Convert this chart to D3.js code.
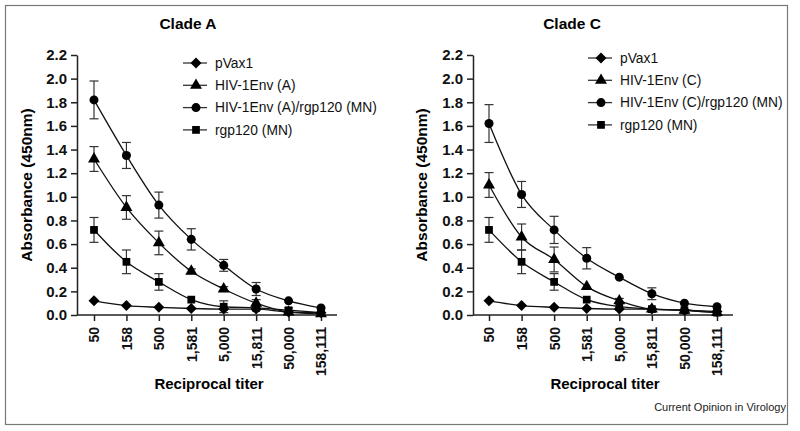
<!DOCTYPE html>
<html><head><meta charset="utf-8">
<script src="https://cdn.jsdelivr.net/npm/d3@7/dist/d3.min.js"></script>
<style>body{margin:0;background:#fff}svg{display:block}text{font-family:"Liberation Sans",Arial,Helvetica,sans-serif}</style>
</head><body>
<script>
const titers = ["50","158","500","1,581","5,000","15,811","50,000","158,111"];
const yTicks = [0,0.2,0.4,0.6,0.8,1.0,1.2,1.4,1.6,1.8,2.0,2.2];

// Clade A
const pVax1A      = [0.12,0.08,0.065,0.055,0.05,0.05,0.025,0.02];
const pVax1AErr   = [0,0,0,0,0,0,0,0];
const envA        = [1.32,0.91,0.61,0.37,0.22,0.10,0.025,0.01];
const envAErr     = [0.105,0.10,0.10,0.02,0.02,0.03,0.01,0.01];
const envArgpA    = [1.82,1.35,0.93,0.64,0.42,0.22,0.12,0.06];
const envArgpAErr = [0.16,0.11,0.11,0.09,0.05,0.055,0.01,0.01];
const rgpA        = [0.72,0.45,0.28,0.13,0.07,0.06,0.04,0.02];
const rgpAErr     = [0.105,0.10,0.07,0.01,0.05,0.02,0.02,0.01];

// Clade C
const pVax1C      = [0.12,0.08,0.065,0.055,0.05,0.05,0.04,0.03];
const pVax1CErr   = [0,0,0,0,0,0,0,0];
const envC        = [1.10,0.66,0.47,0.24,0.12,0.05,0.04,0.02];
const envCErr     = [0.105,0.11,0.105,0.01,0.02,0.01,0.01,0.01];
const envCrgpC    = [1.62,1.02,0.72,0.48,0.32,0.18,0.10,0.07];
const envCrgpCErr = [0.16,0.11,0.115,0.09,0.01,0.05,0.01,0.01];
const rgpC        = [0.72,0.45,0.28,0.13,0.07,0.05,0.04,0.02];
const rgpCErr     = [0.105,0.10,0.07,0.01,0.01,0.01,0.01,0.01];

const panels = [
  {title:"Clade A", ax:77, x0:94, x1:321, axEnd:337, titleX:188, ylabX:27, xlabX:209, legX:183, legY:63,
   series:[
    {name:"pVax1", v:pVax1A, e:pVax1AErr, sym:"diamond"},
    {name:"HIV-1Env (A)", v:envA, e:envAErr, sym:"triangle"},
    {name:"HIV-1Env (A)/rgp120 (MN)", v:envArgpA, e:envArgpAErr, sym:"circle"},
    {name:"rgp120 (MN)", v:rgpA, e:rgpAErr, sym:"square"}]},
  {title:"Clade C", ax:473, x0:489, x1:717, axEnd:733, titleX:572, ylabX:422, xlabX:605, legX:588, legY:58,
   series:[
    {name:"pVax1", v:pVax1C, e:pVax1CErr, sym:"diamond"},
    {name:"HIV-1Env (C)", v:envC, e:envCErr, sym:"triangle"},
    {name:"HIV-1Env (C)/rgp120 (MN)", v:envCrgpC, e:envCrgpCErr, sym:"circle"},
    {name:"rgp120 (MN)", v:rgpC, e:rgpCErr, sym:"square"}]}
];

const W=800,H=431;
const svg=d3.select("body").append("svg").attr("width",W).attr("height",H);
svg.append("rect").attr("x",5.5).attr("y",5.5).attr("width",782).attr("height",419)
  .attr("fill","none").attr("stroke","#777").attr("stroke-width",1.2);

const symMap={diamond:d3.symbolSquare,triangle:d3.symbolTriangle,circle:d3.symbolCircle,square:d3.symbolSquare};
const symSize={diamond:60,triangle:62,circle:64,square:60};
const symRot={diamond:45,triangle:0,circle:0,square:0};

const y=d3.scaleLinear().domain([0,2.2]).range([315,55]);

panels.forEach(p=>{
  const g=svg.append("g");
  const x=d3.scalePoint().domain(titers).range([p.x0,p.x1]);

  // y axis
  const ya=g.append("g").attr("transform",`translate(${p.ax},0)`)
    .call(d3.axisLeft(y).tickValues(yTicks).tickFormat(d3.format(".1f")).tickSize(6).tickSizeOuter(0).tickPadding(4));
  ya.select(".domain").attr("stroke","#222").attr("stroke-width",1.5);
  ya.selectAll(".tick line").attr("stroke","#222").attr("stroke-width",1.5);
  ya.selectAll("text").attr("font-size",15).attr("font-weight","bold").attr("fill","#111");

  // x axis
  const xa=g.append("g").attr("transform",`translate(0,315)`)
    .call(d3.axisBottom(x).tickSize(6).tickSizeOuter(0));
  xa.select(".domain").attr("d",`M${p.ax},0H${p.axEnd}`).attr("stroke","#222").attr("stroke-width",1.5);
  xa.selectAll(".tick line").attr("stroke","#222").attr("stroke-width",1.5);
  xa.selectAll("text").attr("font-size",14).attr("font-weight","bold").attr("fill","#111")
    .attr("transform","rotate(-90)").attr("text-anchor","end").attr("x",-12).attr("y",0).attr("dy","0.35em");

  // titles
  g.append("text").attr("x",p.titleX).attr("y",29).attr("text-anchor","middle")
    .attr("font-size",15.5).attr("font-weight","bold").text(p.title);
  g.append("text").attr("transform",`translate(${p.ylabX+5},185) rotate(-90)`).attr("text-anchor","middle")
    .attr("font-size",15.5).attr("font-weight","bold").text("Absorbance (450nm)");
  g.append("text").attr("x",p.xlabX).attr("y",389).attr("text-anchor","middle")
    .attr("font-size",15).attr("font-weight","bold").text("Reciprocal titer");

  const line=d3.line().x((d,i)=>x(titers[i])).y(d=>y(d)).curve(d3.curveMonotoneX);

  // error bars
  p.series.forEach(s=>{
    s.v.forEach((v,i)=>{
      const e=s.e[i]; if(e<=0.012) return;
      const cx=x(titers[i]);
      g.append("line").attr("x1",cx).attr("x2",cx).attr("y1",y(v+e)).attr("y2",y(v-e)).attr("stroke","#333").attr("stroke-width",1.2);
      [v+e,v-e].forEach(t=>g.append("line").attr("x1",cx-4.5).attr("x2",cx+4.5).attr("y1",y(t)).attr("y2",y(t)).attr("stroke","#333").attr("stroke-width",1.2));
    });
  });
  // lines
  p.series.forEach(s=>{
    g.append("path").datum(s.v).attr("d",line).attr("fill","none").attr("stroke","#111").attr("stroke-width",1.3);
  });
  // markers
  p.series.forEach(s=>{
    g.selectAll(null).data(s.v).enter().append("path")
      .attr("transform",(d,i)=>`translate(${x(titers[i])},${y(d)}) rotate(${symRot[s.sym]})`)
      .attr("d",d3.symbol().type(symMap[s.sym]).size(symSize[s.sym])).attr("fill","#000");
  });
  // legend
  p.series.forEach((s,i)=>{
    const ly=p.legY+i*22.3;
    g.append("line").attr("x1",p.legX).attr("x2",p.legX+24).attr("y1",ly).attr("y2",ly).attr("stroke","#333").attr("stroke-width",1.3);
    g.append("path").attr("transform",`translate(${p.legX+13},${ly}) rotate(${symRot[s.sym]})`)
      .attr("d",d3.symbol().type(symMap[s.sym]).size(symSize[s.sym])).attr("fill","#000");
    g.append("text").attr("x",p.legX+32).attr("y",ly).attr("dy","0.35em").attr("font-size",13.8).attr("fill","#111").text(s.name);
  });
});

svg.append("text").attr("x",786).attr("y",411).attr("text-anchor","end").attr("font-size",11).attr("fill","#222").text("Current Opinion in Virology");
</script>
</body></html>
